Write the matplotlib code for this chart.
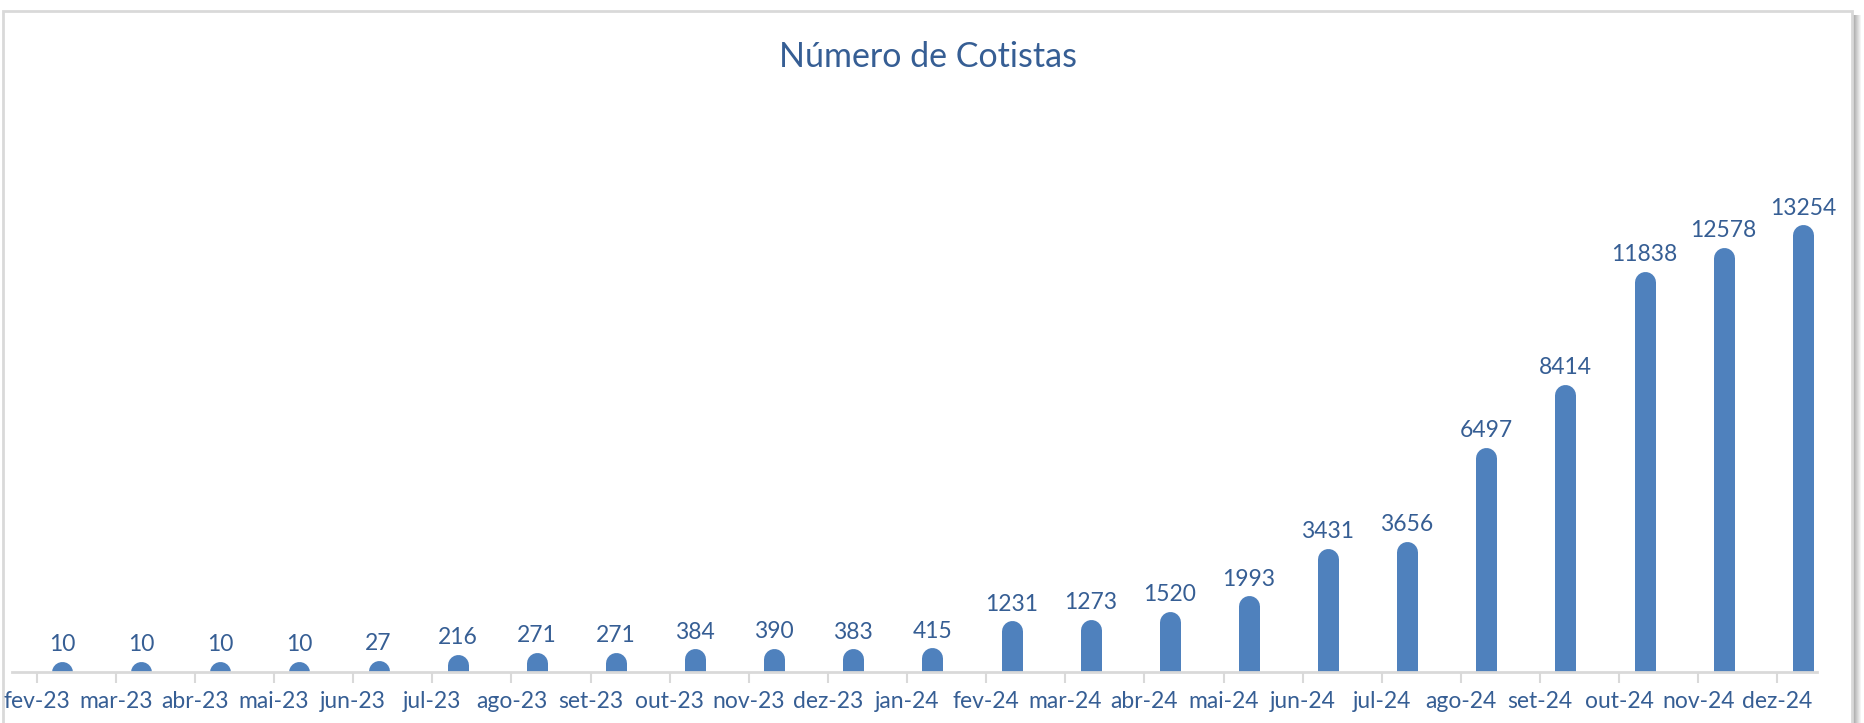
import matplotlib
matplotlib.use("Agg")
import matplotlib.pyplot as plt
from matplotlib.patches import Rectangle

categories = ["fev-23", "mar-23", "abr-23", "mai-23", "jun-23", "jul-23", "ago-23",
              "set-23", "out-23", "nov-23", "dez-23", "jan-24", "fev-24", "mar-24",
              "abr-24", "mai-24", "jun-24", "jul-24", "ago-24", "set-24", "out-24",
              "nov-24", "dez-24"]
values = [10, 10, 10, 10, 27, 216, 271, 271, 384, 390, 383, 415, 1231, 1273,
          1520, 1993, 3431, 3656, 6497, 8414, 11838, 12578, 13254]
title = "Número de Cotistas"

W, H = 1865, 723
DPI = 100
BAR = "#4F81BD"
TXT = "#365E94"
GRID = "#D9D9D9"

plt.rcParams['font.family'] = ['Lato', 'DejaVu Sans']

fig = plt.figure(figsize=(W / DPI, H / DPI), dpi=DPI)
fig.patch.set_facecolor("white")

# shadow on the right side (gradient of gray strips)
shadow = ["#9E9E9E", "#A8A8A8", "#B3B3B3", "#BEBEBE", "#C9C9C9", "#D4D4D4", "#DFDFDF", "#EAEAEA", "#F4F4F4"]
for k, c in enumerate(shadow):
    fig.add_artist(Rectangle(((1852 + k) / W, -0.01), 1 / W, (H - 15) / H + 0.01,
                             transform=fig.transFigure, facecolor=c, edgecolor="none", zorder=-3))
# chart frame
fig.add_artist(Rectangle((3 / W, -0.01), 1849 / W, (H - 11) / H + 0.01,
                         transform=fig.transFigure, facecolor="white", edgecolor=GRID,
                         linewidth=2, zorder=-2))

ax_left, ax_right = 12, 1817
ax_bottom, ax_top = 672, 100
ax = fig.add_axes([ax_left / W, (H - ax_bottom) / H, (ax_right - ax_left) / W,
                   (ax_bottom - ax_top) / H])
ax.set_facecolor("none")

n = len(categories)
xs = list(range(n))
ymax = 17360
ax.set_ylim(0, ymax)
ax.set_xlim(-0.632, n - 1 + 0.18)

bar_px = 21
lw_pt = bar_px * 72 / DPI
r_data = (bar_px / 2) * ymax / (ax_bottom - ax_top)

ax.vlines(xs, [-r_data] * n, values, colors=BAR, linewidth=lw_pt, capstyle="round", zorder=3)

for x, v in zip(xs, values):
    ax.annotate(str(v), (x, v + r_data), xytext=(0, 4.5), textcoords="offset points",
                ha="center", va="bottom", fontsize=16.5, color=TXT, zorder=4)

offset = 0.32
ax.set_xticks([x - offset for x in xs])
ax.set_xticklabels(categories, fontsize=16.5, color=TXT)
ax.tick_params(axis="x", length=8, width=1.5, color=GRID, pad=6)
ax.set_yticks([])
for s in ["top", "right", "left"]:
    ax.spines[s].set_visible(False)
ax.spines["bottom"].set_color(GRID)
ax.spines["bottom"].set_linewidth(2)
ax.spines["bottom"].set_zorder(5)

fig.text(928 / W, 1 - 57 / H, title, ha="center", va="center", fontsize=24.5, color=TXT)

fig.savefig("out.png", dpi=DPI)
